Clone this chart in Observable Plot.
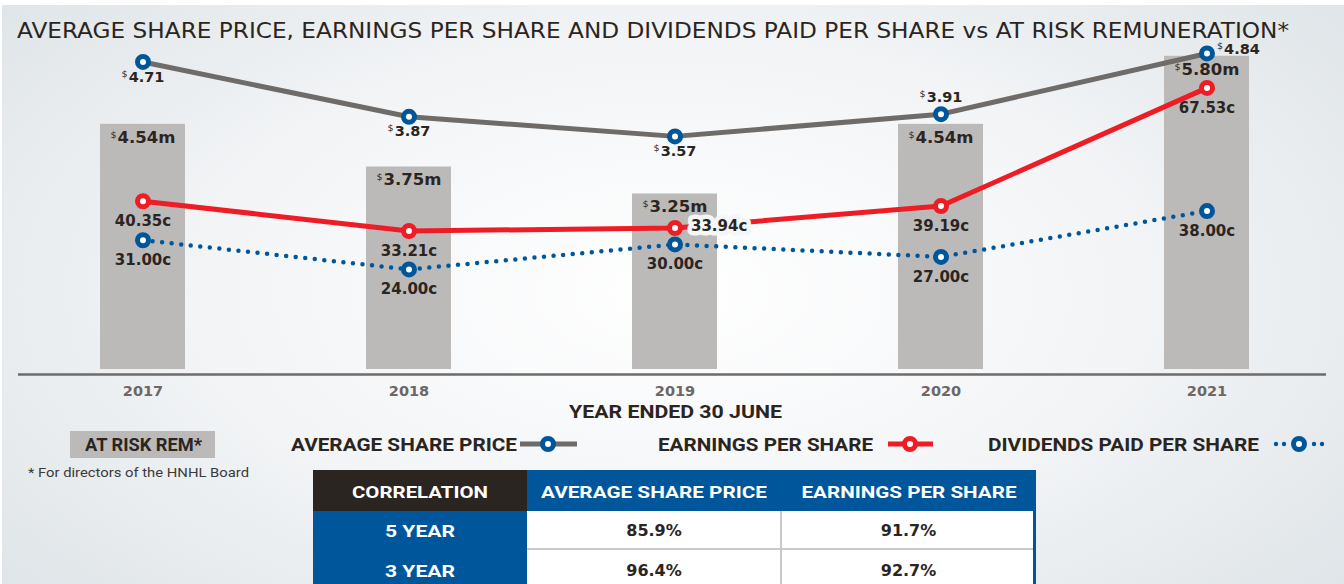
<!DOCTYPE html>
<html>
<head>
<meta charset="utf-8">
<script src="https://cdn.jsdelivr.net/npm/d3@7"></script>
<script src="https://cdn.jsdelivr.net/npm/@observablehq/plot@0.6"></script>
<style>
html,body{margin:0;padding:0;}
body{width:1344px;height:584px;overflow:hidden;position:relative;font-family:Roboto,sans-serif;
  background:radial-gradient(ellipse 70% 85% at 50% 50%, #ffffff 0%, #f2f4f6 50%, #dce2e6 100%);}
#topstrip{position:absolute;left:0;top:0;width:1344px;height:5px;background:#fff;}
#leftstrip{position:absolute;left:0;top:0;width:2px;height:584px;background:#fff;}
#chart{position:absolute;left:0;top:44px;}
.t{position:absolute;white-space:nowrap;line-height:1;display:inline-block;}
.title{font-family:"DejaVu Sans";font-size:22px;color:#2b2522;}
.leg{font-family:Roboto;font-weight:700;font-size:18px;color:#2b2522;}
.foot{font-family:Roboto;font-size:13px;color:#3a3a3a;}
.th{font-family:Roboto;font-weight:700;font-size:17px;color:#fff;}
.td{font-family:"DejaVu Sans";font-weight:700;font-size:16px;color:#2b2522;}
.box{position:absolute;}
</style>
</head>
<body>
<div id="topstrip"></div><div id="leftstrip"></div>
<div id="chart"></div>
<svg id="icons" width="1344" height="584" style="position:absolute;left:0;top:0;pointer-events:none"></svg>
<script>
// ---------- data ----------
const years = ["2017", "2018", "2019", "2020", "2021"];
const atRiskRem = [4.54, 3.75, 3.25, 4.54, 5.80];      // $m
const sharePrice = [4.71, 3.87, 3.57, 3.91, 4.84];     // $
const eps = [40.35, 33.21, 33.94, 39.19, 67.53];       // cents
const dps = [31.00, 24.00, 30.00, 27.00, 38.00];       // cents
const corrHeader = ["CORRELATION", "AVERAGE SHARE PRICE", "EARNINGS PER SHARE"];
const corrPeriods = ["5 YEAR", "3 YEAR"];
const corrSharePrice = ["85.9%", "96.4%"];
const corrEps = ["91.7%", "92.7%"];
const legendLabels = ["AT RISK REM*", "AVERAGE SHARE PRICE", "EARNINGS PER SHARE", "DIVIDENDS PAID PER SHARE"];

// ---------- colours ----------
const GRAY_BAR = "#bcbab8", GRAY_LINE = "#6e6b69", BLUE = "#00569a", RED = "#ee1c25", INK = "#2b2522";

const rows = years.map((year, i) => ({year, i, rem: atRiskRem[i], price: sharePrice[i], eps: eps[i], dps: dps[i]}));

// dual-axis mappings onto the $m scale
const priceToM = d3.scaleLinear([0, 1], [0, 65.3 / 54]);
const centToM = d3.scaleLinear([0, 1], [0, 4.17 / 54]);

const W = 1344, H = 380, BASE = 325;
const lab = {fontFamily: "DejaVu Sans", fontWeight: 700, fill: INK, lineAnchor: "middle"};
const ring = {r: 5.5, strokeWidth: 5, fill: "white"};

const plot = Plot.plot({
  width: W, height: H,
  marginTop: 0, marginBottom: H - BASE, marginLeft: 9, marginRight: 3,
  style: {background: "transparent", overflow: "visible"},
  x: {type: "band", domain: years, paddingInner: 0.68, paddingOuter: 0.34, axis: null},
  y: {domain: [0, BASE / 54], axis: null},
  marks: [
    Plot.barY(rows, {x: "year", y: "rem", fill: GRAY_BAR}),
    Plot.text(rows, {x: "year", y: "rem", text: d => "$" + d.rem.toFixed(2) + "m", dy: 13, fontSize: 16.5, ...lab}),
    Plot.ruleY([0], {dy: 5, stroke: GRAY_LINE, strokeWidth: 2.5, insetLeft: 9, insetRight: 15}),
    Plot.text(years, {x: d => d, text: d => d, frameAnchor: "bottom", dy: 22, fontFamily: "DejaVu Sans", fontWeight: 700, fontSize: 14.5, fill: "#6b6866", lineAnchor: "middle"}),
    Plot.text(["YEAR ENDED 30 JUNE"], {text: d => d, frameAnchor: "bottom", dy: 43, fontFamily: "Roboto", fontWeight: 700, fontSize: 18, fill: INK, lineAnchor: "middle"}),
    // lines
    Plot.line(rows, {x: "year", y: d => centToM(d.dps), stroke: BLUE, strokeWidth: 4.5, strokeDasharray: "0,9.6", strokeLinecap: "round"}),
    Plot.line(rows, {x: "year", y: d => centToM(d.eps), stroke: RED, strokeWidth: 5}),
    Plot.line(rows, {x: "year", y: d => priceToM(d.price), stroke: GRAY_LINE, strokeWidth: 5, strokeLinejoin: "round"}),
    // markers
    Plot.dot(rows, {x: "year", y: d => centToM(d.dps), stroke: BLUE, ...ring}),
    Plot.dot(rows, {x: "year", y: d => centToM(d.eps), stroke: RED, ...ring}),
    Plot.dot(rows, {x: "year", y: d => priceToM(d.price), stroke: BLUE, ...ring}),
    // price labels
    Plot.text(rows.filter(d => d.i <= 2), {x: "year", y: d => priceToM(d.price), text: d => "$" + d.price.toFixed(2), dy: 15, fontSize: 14.5, ...lab}),
    Plot.text(rows.filter(d => d.i === 3), {x: "year", y: d => priceToM(d.price), text: d => "$" + d.price.toFixed(2), dy: -17, fontSize: 14.5, ...lab}),
    Plot.text(rows.filter(d => d.i === 4), {x: "year", y: d => priceToM(d.price), text: d => "$" + d.price.toFixed(2), dx: 10, dy: -4, textAnchor: "start", fontSize: 14.5, ...lab}),
    // EPS labels
    Plot.text(rows.filter(d => d.i !== 2), {x: "year", y: d => centToM(d.eps), text: d => d.eps.toFixed(2) + "c", dy: 20, fontSize: 15, ...lab}),
    Plot.text(rows.filter(d => d.i === 2), {x: "year", y: d => centToM(d.eps), text: d => d.eps.toFixed(2) + "c", dx: 16, dy: -2, textAnchor: "start", fontSize: 15, stroke: "#f4f6f7", strokeWidth: 9, ...lab}),
    // DPS labels
    Plot.text(rows, {x: "year", y: d => centToM(d.dps), text: d => d.dps.toFixed(2) + "c", dy: 20, fontSize: 15, ...lab})
  ]
});
document.getElementById("chart").appendChild(plot);

// superscript dollar signs and condensed axis title
plot.querySelectorAll("text").forEach(t => {
  const s = t.textContent;
  if (s === "YEAR ENDED 30 JUNE") {
    t.setAttribute("textLength", "213");
    t.setAttribute("lengthAdjust", "spacingAndGlyphs");
  }
  if (s.startsWith("$")) {
    t.textContent = "";
    const ns = "http://www.w3.org/2000/svg";
    const a = document.createElementNS(ns, "tspan");
    a.setAttribute("font-size", "9.5"); a.setAttribute("dy", "-5"); a.setAttribute("font-weight", "400");
    a.textContent = "$";
    const b = document.createElementNS(ns, "tspan");
    b.setAttribute("dy", "5"); b.setAttribute("dx", "1");
    b.textContent = s.slice(1);
    t.appendChild(a); t.appendChild(b);
  }
});

// ---------- HTML text helpers ----------
function place(text, cls, x, y, w, anchor) {
  const el = document.createElement("span");
  el.className = "t " + cls;
  el.textContent = text;
  document.body.appendChild(el);
  const nat = el.getBoundingClientRect().width;
  const k = w ? w / nat : 1;
  el.style.top = y + "px";
  el.style.left = x + "px";
  if (anchor === "middle") {
    el.style.transform = `translate(-50%,-50%) scaleX(${k})`;
  } else {
    el.style.transformOrigin = "left center";
    el.style.transform = `translateY(-50%) scaleX(${k})`;
  }
  return el;
}
function rect(x, y, w, h, bg) {
  const d = document.createElement("div");
  d.className = "box";
  Object.assign(d.style, {left: x + "px", top: y + "px", width: w + "px", height: h + "px", background: bg});
  document.body.appendChild(d);
  return d;
}

// title
place("AVERAGE SHARE PRICE, EARNINGS PER SHARE AND DIVIDENDS PAID PER SHARE vs AT RISK REMUNERATION*", "title", 17, 31, 1272, "start");

// legend
rect(70, 431, 145, 27, GRAY_BAR);
place(legendLabels[0], "leg", 85, 444.5, 117, "start");
place(legendLabels[1], "leg", 291, 444.5, 226, "start");
place(legendLabels[2], "leg", 658, 444.5, 215, "start");
place(legendLabels[3], "leg", 988, 444.5, 271, "start");
place("* For directors of the HNHL Board", "foot", 28, 472, 221, "start");

const icons = d3.select("#icons");
icons.append("line").attr("x1", 520).attr("x2", 577).attr("y1", 444).attr("y2", 444).attr("stroke", GRAY_LINE).attr("stroke-width", 5);
icons.append("circle").attr("cx", 548).attr("cy", 444).attr("r", 5.5).attr("stroke", BLUE).attr("stroke-width", 5).attr("fill", "white");
icons.append("line").attr("x1", 888).attr("x2", 933).attr("y1", 444).attr("y2", 444).attr("stroke", RED).attr("stroke-width", 5);
icons.append("circle").attr("cx", 910).attr("cy", 444).attr("r", 5.5).attr("stroke", RED).attr("stroke-width", 5).attr("fill", "white");
[1276, 1284, 1314, 1322].forEach(cx => icons.append("circle").attr("cx", cx).attr("cy", 444).attr("r", 2.2).attr("fill", BLUE));
icons.append("circle").attr("cx", 1299).attr("cy", 444).attr("r", 5.5).attr("stroke", BLUE).attr("stroke-width", 5).attr("fill", "white");

// correlation table
const TX = 313, TY = 470;
const colX = [313, 527, 781, 1036];
rect(TX, TY, 723, 114, BLUE);
rect(colX[0], TY, colX[1] - colX[0], 41, INK);
rect(colX[1], TY + 41, colX[3] - colX[1] - 3, 114 - 41, "#c9c9c9");
[0, 1].forEach(r => {
  const y0 = TY + 41 + r * 39;
  rect(colX[1], y0, colX[2] - colX[1] - 1, 37 + r * 10, "#ffffff");
  rect(colX[2] + 1, y0, colX[3] - colX[2] - 4, 37 + r * 10, "#ffffff");
});
const headW = [136, 226, 215];
corrHeader.forEach((h, j) => place(h, "th", (colX[j] + colX[j + 1]) / 2, TY + 21.5, headW[j], "middle"));
corrPeriods.forEach((p, r) => {
  const yc = TY + 41 + r * 40 + 20;
  place(p, "th", (colX[0] + colX[1]) / 2, yc, 70, "middle");
  place(corrSharePrice[r], "td", (colX[1] + colX[2]) / 2, yc, 0, "middle");
  place(corrEps[r], "td", (colX[2] + colX[3]) / 2, yc, 0, "middle");
});
</script>
</body>
</html>
